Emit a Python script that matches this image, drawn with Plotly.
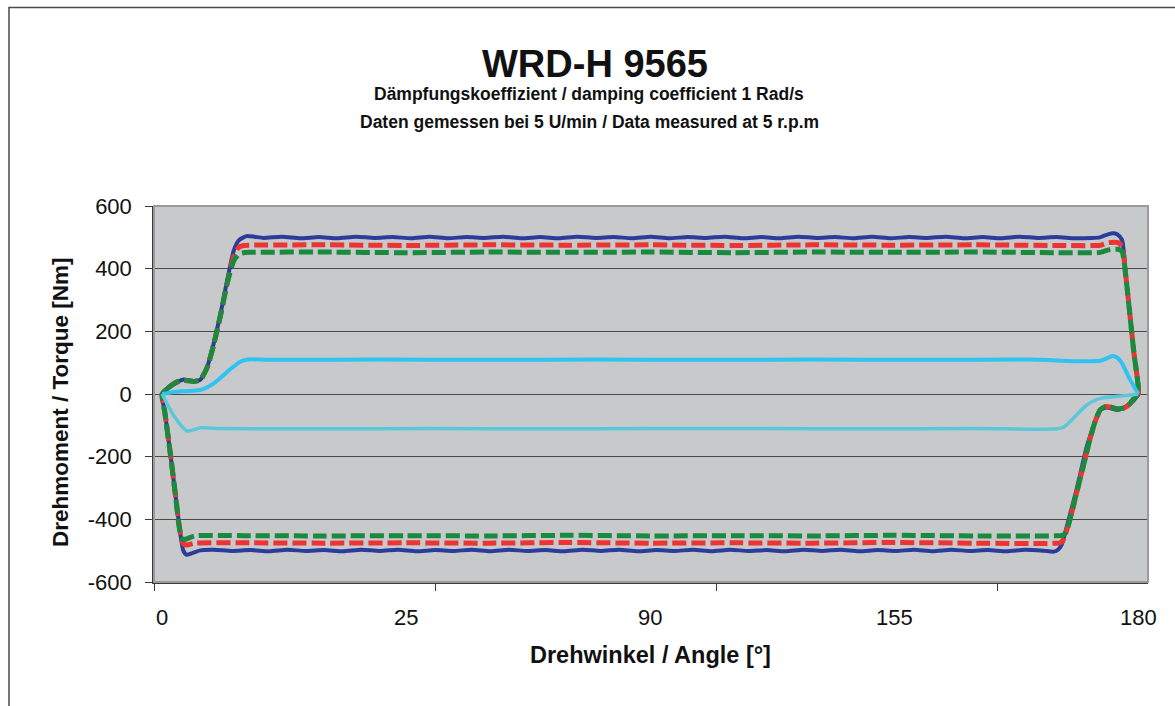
import plotly.graph_objects as go

# ---------------- data ----------------
blue_fwd_x = [0, 1.0, 2.1, 3.0, 4.0, 5.0, 5.8, 7.0, 8.3, 9.5, 10.8, 12.0, 13.2, 14.1, 15.0, 15.7, 17.0,
              18.7, 22.1, 25.5, 28.9, 32.3, 35.7, 39.1, 42.5, 45.9, 49.3, 52.7, 56.1, 59.5, 62.9, 66.3,
              69.7, 73.1, 76.5, 79.9, 83.3, 86.7, 90.1, 93.5, 96.9, 100.3, 103.7, 107.1, 110.5, 113.9,
              117.3, 120.7, 124.1, 127.5, 130.9, 134.3, 137.7, 141.1, 144.5, 147.9, 151.3, 154.7, 158.1,
              161.5, 164.9, 168.3, 171.4, 172.9, 174.0, 175.2, 176.1, 177.0, 177.8, 178.5, 179.2, 180]
blue_fwd_y = [0, 18, 30, 40, 46, 43, 40, 45, 87, 162, 260, 364, 458, 490, 500, 504, 502,
              498, 502, 497, 501, 497, 502, 498, 501, 497, 502, 497, 501, 498, 502, 497,
              501, 497, 502, 498, 501, 497, 502, 497, 501, 498, 502, 497, 501, 497,
              502, 498, 501, 497, 502, 497, 501, 498, 502, 497, 501, 497, 502,
              498, 501, 497, 498, 500, 507, 513, 510, 492, 361, 246, 131, 4]
blue_ret_x = [180, 179.2, 178.5, 177.2, 176.0, 174.8, 174.2, 172.9, 171.6, 170.5, 168.6, 166.8, 165.9,
              165.2, 164.4, 162.5, 159.1, 155.7, 152.3, 148.9, 145.5, 142.1, 138.7, 135.3, 131.9, 128.5,
              125.1, 121.7, 118.3, 114.9, 111.5, 108.1, 104.7, 101.3, 97.9, 94.5, 91.1, 87.7, 84.3, 80.9,
              77.5, 74.1, 70.7, 67.3, 63.9, 60.5, 57.1, 53.7, 50.3, 46.9, 43.5, 40.1, 36.7, 33.3, 29.9,
              26.5, 23.1, 19.7, 16.3, 12.9, 9.5, 7.0, 5.5, 4.5, 3.9, 3.3, 2.5, 1.5, 0.5, 0]
blue_ret_y = [0, -20, -30, -45, -51, -45, -43, -52, -110, -168, -306, -424, -480,
              -497, -503, -500, -497, -502, -498, -501, -497, -502, -497, -501, -498, -502,
              -497, -501, -497, -502, -498, -501, -497, -502, -497, -501, -498, -502, -497, -501,
              -497, -502, -498, -501, -497, -502, -497, -501, -498, -502, -497, -501, -497, -502, -498,
              -501, -497, -502, -498, -501, -497, -499, -508, -513, -500, -440, -330, -190, -60, 0]

red_fwd_x = [0, 1.0, 2.1, 3.0, 4.0, 5.0, 5.8, 7.0, 8.3, 9.5, 10.8, 12.0, 13.2, 14.1, 15.0, 16.0,
             30, 45, 60, 75, 90, 105, 120, 135, 150, 165, 173.0, 174.5, 176.3, 177.0, 177.8, 178.5, 179.2, 180]
red_fwd_y = [0, 18, 32, 40, 44, 42, 40, 45, 85, 158, 255, 355, 440, 468, 474, 475,
             476, 474, 476, 475, 476, 474, 476, 475, 476, 474, 475, 483, 483, 470, 360, 245, 130, 0]
red_ret_x = [180, 179.2, 178.5, 177.5, 176.0, 175.0, 174.0, 173.0, 172.0, 171.0, 170.0, 168.6, 167.4,
             166.5, 166.0, 165.5, 150, 135, 120, 105, 90, 75, 60, 45, 30, 15, 6.0, 4.6, 3.9, 3.3, 2.5,
             1.5, 0.5, 0]
red_ret_y = [0, -14, -30, -44, -47, -42, -40, -50, -90, -150, -220, -317, -400,
             -450, -470, -475, -476, -474, -476, -475, -476, -474, -476, -475, -476, -475, -476, -482,
             -478, -440, -330, -190, -60, 0]

green_fwd_x = [0, 1.0, 2.1, 3.0, 4.0, 5.0, 5.8, 7.0, 8.3, 9.5, 10.8, 12.0, 13.2, 14.1, 15.0, 16.0,
               30, 45, 60, 75, 90, 105, 120, 135, 150, 165, 173.0, 174.5, 176.3, 177.0, 177.8, 178.5, 179.2, 180]
green_fwd_y = [0, 18, 32, 40, 44, 42, 40, 45, 85, 158, 255, 355, 425, 446, 451, 452,
               453, 451, 453, 452, 453, 451, 453, 452, 453, 451, 452, 460, 462, 455, 360, 245, 130, 0]
green_ret_x = [180, 179.2, 178.5, 177.5, 176.0, 175.0, 174.0, 173.0, 172.0, 171.0, 170.0, 168.6, 167.4,
               166.7, 166.2, 165.7, 150, 135, 120, 105, 90, 75, 60, 45, 30, 15, 6.0, 4.6, 3.9, 3.3, 2.5,
               1.5, 0.5, 0]
green_ret_y = [0, -14, -30, -44, -47, -42, -40, -50, -90, -150, -220, -317, -400,
               -440, -450, -452, -453, -451, -453, -452, -453, -451, -453, -452, -453, -452, -453, -462,
               -465, -440, -330, -190, -60, 0]

sky_x = [0, 2.1, 4.0, 7.1, 9.5, 12.0, 14.4, 15.7, 20, 40, 60, 80, 100, 120, 140, 160,
         172.9, 175.4, 176.6, 178.5, 180]
sky_y = [0, 6, 9, 13, 34, 71, 103, 110, 109, 110, 109, 110, 109, 110, 109, 110,
         106, 121, 108, 45, 0]

cyan_x = [180, 178.5, 175.4, 172.9, 170.5, 168.0, 166.2, 165.0, 150, 130, 110, 90, 70, 50, 30,
          10, 7.1, 4.6, 2.7, 1.2, 0]
cyan_y = [0, -3, -9, -14, -35, -78, -106, -111, -110, -111, -110, -110, -111, -110, -111,
          -110, -108, -118, -83, -41, 0]

y_ticks = [-600, -400, -200, 0, 200, 400, 600]
y_tick_text = ["-600", "-400", "-200", "0", "200", "400", "600"]
x_label_pos = [0, 45, 90, 135, 180]
x_label_text = ["0", "25", "90", "155", "180"]
x_tick_marks = [-1.5, 50.4, 102.2, 154.0]

# ---------------- figure ----------------
W, H = 1175, 706
L, R, T, B = 154, 27, 206, 124
XMIN, XMAX = -1.51, 181.79
FONT = "Liberation Sans, Arial, sans-serif"


def px_x(p):
    return (p - L) / (W - L - R)


def px_y(p):
    return (H - B - p) / (H - T - B)


fig = go.Figure()
c_blue, c_red, c_green, c_sky, c_cyan = "#2B3D9B", "#EE3333", "#1A8A3E", "#2EC3F1", "#5CC7D8"

fig.add_trace(go.Scatter(x=blue_fwd_x + blue_ret_x[1:], y=blue_fwd_y + blue_ret_y[1:], mode="lines",
                         line=dict(color=c_blue, width=4, shape="spline", smoothing=0.6)))
fig.add_trace(go.Scatter(x=red_fwd_x + red_ret_x[1:], y=red_fwd_y + red_ret_y[1:], mode="lines",
                         line=dict(color=c_red, width=5, dash="14px,5px", shape="spline", smoothing=0.6)))
fig.add_trace(go.Scatter(x=green_fwd_x + green_ret_x[1:], y=green_fwd_y + green_ret_y[1:], mode="lines",
                         line=dict(color=c_green, width=5, dash="14px,5px", shape="spline", smoothing=0.6)))
fig.add_trace(go.Scatter(x=sky_x, y=sky_y, mode="lines",
                         line=dict(color=c_sky, width=4, shape="spline", smoothing=0.8)))
fig.add_trace(go.Scatter(x=cyan_x, y=cyan_y, mode="lines", xaxis="x2",
                         line=dict(color=c_cyan, width=3.5, shape="spline", smoothing=0.8)))

fig.update_layout(
    width=W, height=H, showlegend=False,
    margin=dict(l=L, r=R, t=T, b=B),
    paper_bgcolor="white", plot_bgcolor="#C8C9CB",
    font=dict(family=FONT, color="#111111"),
    xaxis=dict(range=[XMIN, XMAX], tickvals=x_tick_marks, showticklabels=False,
               ticks="outside", ticklen=7, tickcolor="#3a3a3a", tickwidth=1,
               showgrid=False, zeroline=False, showline=True, linecolor="#3a3a3a", linewidth=1.5),
    xaxis2=dict(range=[XMIN, XMAX], overlaying="x", anchor="y", side="bottom",
                tickvals=x_label_pos, ticktext=x_label_text, ticks="",
                tickfont=dict(size=22, color="#111111", family=FONT), ticklabelstandoff=20,
                showgrid=False, zeroline=False, showline=False),
    yaxis=dict(range=[-600, 600], tickvals=y_ticks, ticktext=y_tick_text, ticks="outside", ticklen=7,
               tickcolor="#3a3a3a", tickfont=dict(size=22, color="#111111", family=FONT),
               ticklabelstandoff=9,
               showgrid=True, gridcolor="#4a4a4a", gridwidth=1, zeroline=False,
               showline=True, linecolor="#3a3a3a", linewidth=1.5),
)

# plot frame (gray) and outer chart frame
fig.add_shape(type="rect", xref="paper", yref="paper", x0=0, x1=1, y0=0, y1=1,
              line=dict(color="#9a9a9a", width=2), layer="above")
fig.add_shape(type="rect", xref="paper", yref="paper",
              x0=px_x(9), x1=px_x(1185), y0=px_y(7.5), y1=px_y(730),
              line=dict(color="#4a4a4a", width=1.5), layer="above")

annos = [
    dict(text="WRD-H 9565", x=px_x(595), y=px_y(63.5), size=38),
    dict(text="Dämpfungskoeffizient / damping coefficient 1 Rad/s", x=px_x(589), y=px_y(94), size=17.5),
    dict(text="Daten gemessen bei 5 U/min / Data measured at 5 r.p.m", x=px_x(589), y=px_y(122), size=17.5),
    dict(text="Drehwinkel / Angle [°]", x=px_x(650), y=px_y(655), size=23.5),
]
for a in annos:
    fig.add_annotation(text=a["text"], x=a["x"], y=a["y"], xref="paper", yref="paper",
                       xanchor="center", yanchor="middle", showarrow=False,
                       font=dict(size=a["size"], family=FONT, color="#111111", weight="bold"))
fig.add_annotation(text="Drehmoment / Torque [Nm]", x=px_x(60), y=px_y(402), xref="paper", yref="paper",
                   xanchor="center", yanchor="middle", showarrow=False, textangle=-90,
                   font=dict(size=22.5, family=FONT, color="#111111", weight="bold"))

fig.write_html("out.html", config={"displayModeBar": False},
               post_script="document.body.style.margin='0px';")
